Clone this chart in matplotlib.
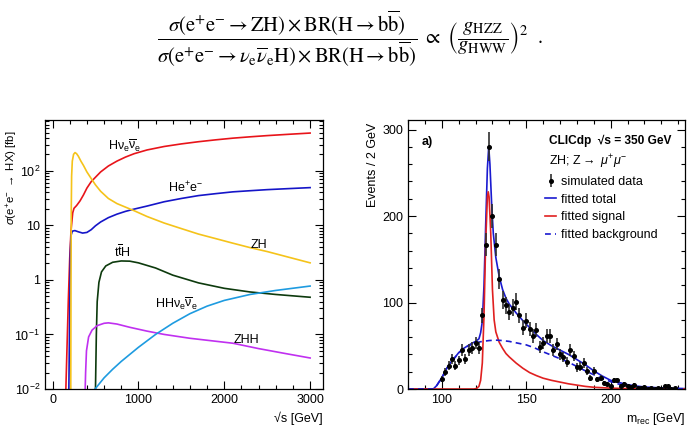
import numpy as np
import matplotlib
matplotlib.use('Agg')
import matplotlib.pyplot as plt
from matplotlib.ticker import FixedLocator, MultipleLocator, NullFormatter
from matplotlib.lines import Line2D

plt.rcParams['font.family'] = ['Liberation Sans', 'DejaVu Sans']
plt.rcParams['mathtext.fontset'] = 'custom'
plt.rcParams['mathtext.rm'] = 'Liberation Sans'
plt.rcParams['mathtext.it'] = 'Liberation Sans:italic'
plt.rcParams['mathtext.bf'] = 'Liberation Sans:bold'

# ---------------- left panel: cross sections (fb) vs sqrt(s) (GeV) ----------------
hnn_x = [155, 184, 200, 215, 235, 250, 280, 320, 360, 400, 450, 500, 560, 650, 750, 850, 950,
         1100, 1300, 1500, 1700, 1900, 2100, 2300, 2500, 2750, 3000]
hnn_y = [0.01, 0.44, 2.5, 8, 17, 20.5, 23, 28, 36, 48, 63, 76, 95, 122, 150, 178, 205,
         240, 278, 310, 340, 368, 395, 418, 440, 465, 490]

zh_x = [212, 215, 218, 222, 230, 245, 262, 280, 300, 330, 360, 400, 450, 500, 560, 650, 750, 850,
        950, 1100, 1300, 1500, 1700, 1900, 2100, 2300, 2500, 2750, 3000]
zh_y = [0.01, 1, 20, 80, 150, 200, 215, 205, 185, 150, 125, 95, 72, 55, 42, 31, 25, 21.5,
        18.5, 14.5, 11, 8.7, 6.9, 5.7, 4.7, 3.9, 3.3, 2.6, 2.05]

hee_x = [190, 200, 207, 215, 230, 260, 300, 350, 400, 450, 500, 560, 650, 750, 850, 950,
         1100, 1300, 1500, 1700, 1900, 2100, 2300, 2500, 2750, 3000]
hee_y = [0.01, 0.3, 3, 6.5, 7.8, 8.0, 7.6, 7.2, 7.4, 8.3, 9.8, 11.5, 13.8, 16, 18, 19.8,
         22.5, 27, 31, 35, 38, 41, 43, 45, 47, 49]

tth_x = [500, 510, 520, 540, 570, 620, 700, 800, 900, 1000, 1200, 1400, 1700, 2000, 2300, 2600, 3000]
tth_y = [0.01, 0.1, 0.4, 0.9, 1.4, 1.8, 2.1, 2.22, 2.2, 2.05, 1.65, 1.22, 0.88, 0.7, 0.6, 0.54, 0.48]

zhh_x = [380, 385, 395, 420, 460, 520, 600, 650, 750, 900, 1100, 1300, 1600, 2100, 2400, 2700, 3000]
zhh_y = [0.01, 0.02, 0.05, 0.09, 0.12, 0.145, 0.16, 0.163, 0.155, 0.135, 0.115, 0.1, 0.085,
         0.069, 0.055, 0.045, 0.037]

hhnn_x = [495, 600, 700, 800, 1000, 1200, 1400, 1600, 1800, 2000, 2300, 2600, 3000]
hhnn_y = [0.01, 0.016, 0.023, 0.032, 0.058, 0.1, 0.16, 0.24, 0.33, 0.42, 0.54, 0.64, 0.77]

# ---------------- right panel: recoil mass ----------------
bin_centres = list(range(100, 240, 2))
counts = [12, 20, 27, 35, 27, 33, 45, 35, 45, 47, 53, 47, 85, 167, 280, 200, 167, 127, 103, 97,
          89, 94, 101, 85, 71, 79, 69, 61, 68, 49, 53, 61, 61, 45, 52, 40, 37, 31, 45, 38,
          25, 26, 30, 21, 13, 21, 11, 13, 7, 6, 3, 10, 10, 4, 6, 3, 2, 5, 1, 1,
          2, 0, 1, 0, 1, 0, 3, 3, 0, 1]
count_err = [3.5, 4.5, 5.2, 5.9, 5.2, 5.7, 6.7, 5.9, 6.7, 6.9, 7.3, 6.9, 9.2, 12.9, 16.7, 14.1, 12.9,
             11.3, 10.1, 9.8, 9.4, 9.7, 10.0, 9.2, 8.4, 8.9, 8.3, 7.8, 8.2, 7.0, 7.3, 7.8, 7.8,
             6.7, 7.2, 6.3, 6.1, 5.6, 6.7, 6.2, 5.0, 5.1, 5.5, 4.6, 3.6, 4.6, 3.3, 3.6, 2.6, 2.4,
             1.7, 3.2, 3.2, 2.0, 2.4, 1.7, 1.4, 2.2, 1.0, 1.0, 1.4, 0, 1.0, 0, 1.0, 0, 1.7, 1.7, 0, 1.0]

tot_x = [80, 95, 97, 100, 103, 105, 108, 110, 113, 115, 118, 120, 122, 123, 124, 125, 126, 127,
         127.8, 128.5, 129.5, 130.5, 132, 134, 136, 138, 140, 144, 148, 152, 156, 160, 165, 170,
         175, 180, 185, 190, 195, 200, 205, 210, 215, 220, 230, 240, 245]
tot_y = [0, 0, 4, 13, 24, 30, 37, 42, 47, 49.5, 53, 55, 58, 65, 78, 120, 190, 255,
         280, 260, 215, 180, 152, 130, 115, 105, 98, 88, 79, 71, 63, 56, 50, 45,
         40, 34, 28, 21, 15, 10, 7.5, 5, 3.5, 2.3, 1.2, 0.6, 0.4]

sig_x = [80, 119, 120.5, 122, 123, 124, 125, 126, 127, 127.5, 128, 129, 130, 131, 132, 134, 136,
         138, 140, 144, 148, 152, 156, 160, 165, 170, 175, 180, 185, 190, 200, 210, 220, 245]
sig_y = [0, 0, 0.5, 3, 10, 30, 85, 170, 222, 228, 222, 180, 115, 80, 66, 54, 47,
         41, 37, 30, 24, 19, 15.5, 12.5, 10, 8, 6, 4.5, 3, 2, 1, 0.5, 0.2, 0]

bkg_x = [80, 95, 97, 100, 103, 105, 108, 110, 113, 115, 118, 120, 124, 128, 132, 136, 140, 145,
         150, 155, 160, 165, 170, 175, 180, 185, 190, 195, 200, 205, 210, 215, 220, 230, 245]
bkg_y = [0, 0, 4, 13, 24, 30, 37, 41.5, 46.5, 49, 52, 53.5, 55, 56, 56.5, 56, 55, 53,
         51, 47.5, 43, 39, 35, 31, 26, 21, 16.5, 12, 8.5, 5.5, 4, 2.5, 1.5, 0.6, 0.2]

W, H = 694, 438
fig = plt.figure(figsize=(W / 100, H / 100), dpi=100)

# formula
formula = (r'$\dfrac{\sigma(\mathrm{e}^{+}\mathrm{e}^{-}\rightarrow \mathrm{ZH})\times '
           r'\mathrm{BR}(\mathrm{H}\rightarrow \mathrm{b}\overline{\mathrm{b}})}'
           r'{\sigma(\mathrm{e}^{+}\mathrm{e}^{-}\rightarrow \nu_{\mathrm{e}}\overline{\nu}_{\mathrm{e}}\mathrm{H})'
           r'\times \mathrm{BR}(\mathrm{H}\rightarrow \mathrm{b}\overline{\mathrm{b}})}'
           r'\ \propto\ \left(\dfrac{g_{\mathrm{HZZ}}}{g_{\mathrm{HWW}}}\right)^{2}\ \ .$')
fig.text(350 / W, 1 - 39 / H, formula, ha='center', va='center', fontsize=14.8,
         math_fontfamily='stix')

ax1 = fig.add_axes([45 / W, 49 / H, 278 / W, 269 / H])
ax2 = fig.add_axes([408 / W, 49 / H, 277 / W, 269 / H])

lw = 1.2
ax1.plot(hnn_x, hnn_y, color='#e8141a', lw=lw)
ax1.plot(hee_x, hee_y, color='#1515c8', lw=lw)
ax1.plot(zh_x, zh_y, color='#f5c31a', lw=lw)
ax1.plot(tth_x, tth_y, color='#0d3a0d', lw=lw)
ax1.plot(zhh_x, zhh_y, color='#c030f0', lw=lw)
ax1.plot(hhnn_x, hhnn_y, color='#1e9be0', lw=lw)
ax1.set_yscale('log')
ax1.set_xlim(-88, 3150)
ax1.set_ylim(0.01, 850)

fs = 9
ax1.text(640, 280, r'H$\mathrm{\nu_{e}\overline{\nu}_{e}}$', fontsize=fs, va='center')
ax1.text(1340, 48, r'He$^{+}$e$^{-}$', fontsize=fs, va='center')
ax1.text(2310, 4.3, 'ZH', fontsize=fs, va='center')
ax1.text(710, 3.2, r't$\mathrm{\overline{t}}$H', fontsize=fs, va='center')
ax1.text(1190, 0.37, r'HH$\mathrm{\nu_{e}\overline{\nu}_{e}}$', fontsize=fs, va='center')
ax1.text(2110, 0.08, 'ZHH', fontsize=fs, va='center')

ax1.yaxis.set_major_locator(FixedLocator([0.01, 0.1, 1, 10, 100]))
ax1.set_yticklabels([r'$10^{-2}$', r'$10^{-1}$', '1', '10', r'$10^{2}$'])
ax1.yaxis.set_minor_locator(FixedLocator(
    [m * 10.0 ** e for e in range(-2, 3) for m in range(2, 10)]))
ax1.yaxis.set_minor_formatter(NullFormatter())
ax1.xaxis.set_major_locator(MultipleLocator(1000))
ax1.xaxis.set_minor_locator(MultipleLocator(200))

ax2.plot(tot_x, tot_y, color='#1a1ad0', lw=lw, label='fitted total')
ax2.plot(sig_x, sig_y, color='#e02020', lw=lw, label='fitted signal')
ax2.plot(bkg_x, bkg_y, color='#1a1ad0', lw=lw, ls=(0, (3.5, 2.5)), label='fitted background')
eb = ax2.errorbar(bin_centres, counts, yerr=count_err, fmt='o', ms=2.6, color='black',
                  ecolor='#303030', elinewidth=1.2, capsize=0, label='simulated data', zorder=5)
ax2.set_xlim(80, 244)
ax2.set_ylim(0, 311)
ax2.xaxis.set_major_locator(MultipleLocator(50))
ax2.xaxis.set_minor_locator(MultipleLocator(10))
ax2.yaxis.set_major_locator(MultipleLocator(100))
ax2.yaxis.set_minor_locator(MultipleLocator(20))

for ax in (ax1, ax2):
    ax.tick_params(which='both', direction='in', top=True, right=True, labelsize=fs)
    ax.tick_params(which='major', length=5.5, width=0.8, pad=3.5)
    ax.tick_params(which='minor', length=2.8, width=0.8)
    for s in ax.spines.values():
        s.set_linewidth(0.9)

h, l = ax2.get_legend_handles_labels()
order = [l.index('simulated data'), l.index('fitted total'), l.index('fitted signal'),
         l.index('fitted background')]
ax2.legend([h[i] for i in order], [l[i] for i in order], loc='upper left',
           bbox_to_anchor=((545 - 408) / 277, 1 - (176 - 120) / 269), frameon=False,
           fontsize=fs, handlelength=0.9, handletextpad=0.35, labelspacing=0.45,
           borderaxespad=0, borderpad=0)

ax2.text((422 - 408) / 277, 1 - (142 - 120) / 269, 'a)', transform=ax2.transAxes,
         fontsize=fs, fontweight='bold', va='center')
ax2.text((549 - 408) / 277, 1 - (141 - 120) / 269, 'CLICdp  √s = 350 GeV',
         transform=ax2.transAxes, fontsize=8.6, fontweight='bold', va='center')
ax2.text((549 - 408) / 277, 1 - (162 - 120) / 269, r'ZH; Z$\rightarrow$ $\mu^{+}\mu^{-}$',
         transform=ax2.transAxes, fontsize=fs, va='center')

fig.text(12 / W, 1 - 130 / H, r'$\sigma$(e$^{+}$e$^{-}$ $\rightarrow$ HX) [fb]', rotation=90,
         ha='center', va='top', fontsize=8.2)
fig.text(323 / W, 1 - 418 / H, '√s [GeV]', ha='right', va='center', fontsize=fs)
fig.text(373 / W, 1 - 123 / H, 'Events / 2 GeV', rotation=90, ha='center', va='top', fontsize=fs)
fig.text(686 / W, 1 - 419 / H, r'm$_{\mathrm{rec}}$ [GeV]', ha='right', va='center', fontsize=fs)

fig.savefig('out.png', dpi=100)
